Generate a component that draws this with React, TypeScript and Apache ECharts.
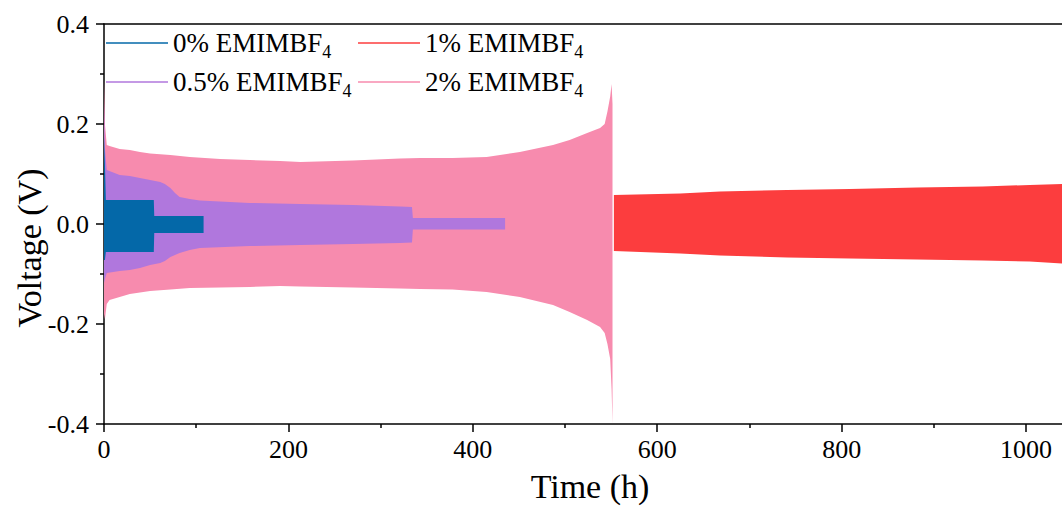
import React, { useEffect, useRef } from 'react';
import * as echarts from 'echarts';

// ---- Data ----
const legendCol1 = ['0% EMIMBF4', '0.5% EMIMBF4'];
const legendCol2 = ['1% EMIMBF4', '2% EMIMBF4'];

const xMajorTicks = [0, 200, 400, 600, 800, 1000];
const xMinorTicks = [100, 300, 500, 700, 900];
const yTickValues = [-0.4, -0.2, 0.0, 0.2, 0.4];

// 0% EMIMBF4 (blue): time (h), upper envelope (V), lower envelope (V)
const t0 = [0, 1, 2, 54, 54.5, 108];
const hi0 = [0.174, 0.12, 0.048, 0.048, 0.016, 0.016];
const lo0 = [-0.072, -0.072, -0.056, -0.056, -0.018, -0.018];

// 0.5% EMIMBF4 (purple)
const t05 = [0, 1, 3, 17, 28, 39, 50, 61, 66, 72, 77, 82, 93, 104, 158, 213, 270, 321, 334, 335, 435];
const hi05 = [0.244, 0.15, 0.108, 0.098, 0.096, 0.092, 0.088, 0.084, 0.08, 0.072, 0.062, 0.054, 0.05, 0.047, 0.042, 0.04, 0.038, 0.035, 0.034, 0.012, 0.012];
const lo05 = [-0.118, -0.11, -0.098, -0.094, -0.092, -0.088, -0.082, -0.078, -0.074, -0.066, -0.062, -0.058, -0.052, -0.048, -0.044, -0.042, -0.04, -0.038, -0.037, -0.011, -0.011];

// 2% EMIMBF4 (pink)
const t2 = [0, 1, 3, 6, 17, 28, 39, 50, 72, 93, 126, 158, 191, 213, 270, 321, 343, 378, 415, 451, 487, 505, 524, 538, 543, 546, 549, 550.5, 551.5];
const hi2 = [0.288, 0.2, 0.158, 0.156, 0.15, 0.148, 0.144, 0.141, 0.138, 0.134, 0.13, 0.128, 0.126, 0.124, 0.127, 0.131, 0.132, 0.132, 0.134, 0.144, 0.158, 0.168, 0.182, 0.192, 0.2, 0.225, 0.255, 0.28, 0.24];
const lo2 = [-0.18, -0.19, -0.16, -0.152, -0.146, -0.14, -0.137, -0.134, -0.131, -0.128, -0.127, -0.126, -0.124, -0.125, -0.127, -0.129, -0.13, -0.131, -0.136, -0.146, -0.162, -0.176, -0.192, -0.206, -0.218, -0.24, -0.27, -0.33, -0.4];

// 1% EMIMBF4 (red)
const t1 = [553, 625, 668, 741, 809, 882, 953, 1004, 1039];
const hi1 = [0.058, 0.061, 0.065, 0.068, 0.07, 0.073, 0.075, 0.078, 0.08];
const lo1 = [-0.054, -0.059, -0.063, -0.067, -0.069, -0.071, -0.073, -0.075, -0.079];

const X_MAX = 1039;

const FONT = "'Liberation Serif', 'Times New Roman', serif";
const COLORS: Record<string, string> = {
  '0% EMIMBF4': '#0468A8',
  '1% EMIMBF4': '#FC3D3E',
  '0.5% EMIMBF4': '#B077DD',
  '2% EMIMBF4': '#F78BAE',
};

function band(name: string, t: number[], hi: number[], lo: number[]) {
  const color = COLORS[name];
  return {
    type: 'custom',
    name,
    silent: true,
    clip: false,
    itemStyle: { color },
    data: t.map((v, i) => [v, hi[i], lo[i]]),
    encode: { x: 0, y: [1, 2] },
    renderItem: (params: any, api: any) => {
      if (params.dataIndex !== 0) return null;
      const pts: number[][] = [];
      for (let i = 0; i < t.length; i++) pts.push(api.coord([t[i], hi[i]]));
      for (let i = t.length - 1; i >= 0; i--) pts.push(api.coord([t[i], lo[i]]));
      return { type: 'polygon', shape: { points: pts }, style: { fill: color } };
    },
  };
}

const legendBase = {
  orient: 'vertical',
  top: 25,
  padding: 0,
  itemGap: 3,
  icon: 'rect',
  itemWidth: 62,
  itemHeight: 1.5,
  itemStyle: { borderWidth: 0 },
  selectedMode: false,
  formatter: (name: string) => `{n|${name.slice(0, -1)}}{s|${name.slice(-1)}}`,
  textStyle: {
    rich: {
      n: { fontSize: 27, fontFamily: FONT, color: '#000', lineHeight: 38 },
      s: { fontSize: 18, fontFamily: FONT, color: '#000', lineHeight: 20, padding: [18, 0, 0, 0] },
    },
  },
};

export default function App() {
  const ref = useRef<HTMLDivElement>(null);
  useEffect(() => {
    document.body.style.margin = '0';
    const chart = echarts.init(ref.current!, undefined, { renderer: 'svg' });
    const axisLine = { show: true, onZero: false, lineStyle: { color: '#000', width: 1.5 } };
    chart.setOption({
      animation: false,
      backgroundColor: '#fff',
      grid: { left: 104, top: 24, bottom: 84, right: 0, containLabel: false },
      legend: [
        { ...legendBase, left: 106, data: legendCol1 },
        { ...legendBase, left: 358, data: legendCol2 },
      ],
      xAxis: [
        {
          type: 'value',
          min: 0,
          max: X_MAX,
          position: 'bottom',
          axisLine,
          axisTick: { show: true, length: 8, customValues: xMajorTicks, lineStyle: { color: '#000', width: 1.5 } },
          minorTick: { show: false },
          splitLine: { show: false },
          axisLabel: {
            customValues: xMajorTicks,
            fontSize: 26,
            fontFamily: FONT,
            color: '#000',
            margin: 12,
            formatter: (v: number) => String(v),
          },
        },
        {
          type: 'value',
          min: 0,
          max: X_MAX,
          position: 'top',
          axisLine,
          axisTick: { show: false },
          axisLabel: { show: false },
          splitLine: { show: false },
        },
        {
          type: 'value',
          min: 0,
          max: X_MAX,
          position: 'bottom',
          axisLine: { show: false, onZero: false },
          axisTick: { show: true, length: 4, customValues: xMinorTicks, lineStyle: { color: '#000', width: 1.5 } },
          axisLabel: { show: false },
          splitLine: { show: false },
        },
      ],
      yAxis: {
        type: 'value',
        min: -0.4,
        max: 0.4,
        interval: 0.2,
        axisLine,
        axisTick: { show: true, length: 8, lineStyle: { color: '#000', width: 1.5 } },
        minorTick: { show: true, splitNumber: 2, length: 4, lineStyle: { color: '#000', width: 1.5 } },
        splitLine: { show: false },
        axisLabel: {
          fontSize: 26,
          fontFamily: FONT,
          color: '#000',
          margin: 15,
          formatter: (v: number) => {
            const m = yTickValues.find((y) => Math.abs(y - v) < 1e-9);
            return m === undefined ? '' : m.toFixed(1);
          },
        },
      },
      graphic: [
        {
          type: 'text',
          x: 590,
          y: 486,
          style: { text: 'Time (h)', font: `34px ${FONT}`, fill: '#000', align: 'center', verticalAlign: 'middle' },
        },
        {
          type: 'text',
          x: 29,
          y: 248,
          rotation: Math.PI / 2,
          style: { text: 'Voltage (V)', font: `34px ${FONT}`, fill: '#000', align: 'center', verticalAlign: 'middle' },
        },
      ],
      series: [
        band('2% EMIMBF4', t2, hi2, lo2),
        band('0.5% EMIMBF4', t05, hi05, lo05),
        band('0% EMIMBF4', t0, hi0, lo0),
        band('1% EMIMBF4', t1, hi1, lo1),
      ],
    });
    return () => chart.dispose();
  }, []);
  return <div ref={ref} style={{ position: 'fixed', left: 0, top: 0, width: 1062, height: 508 }} />;
}
